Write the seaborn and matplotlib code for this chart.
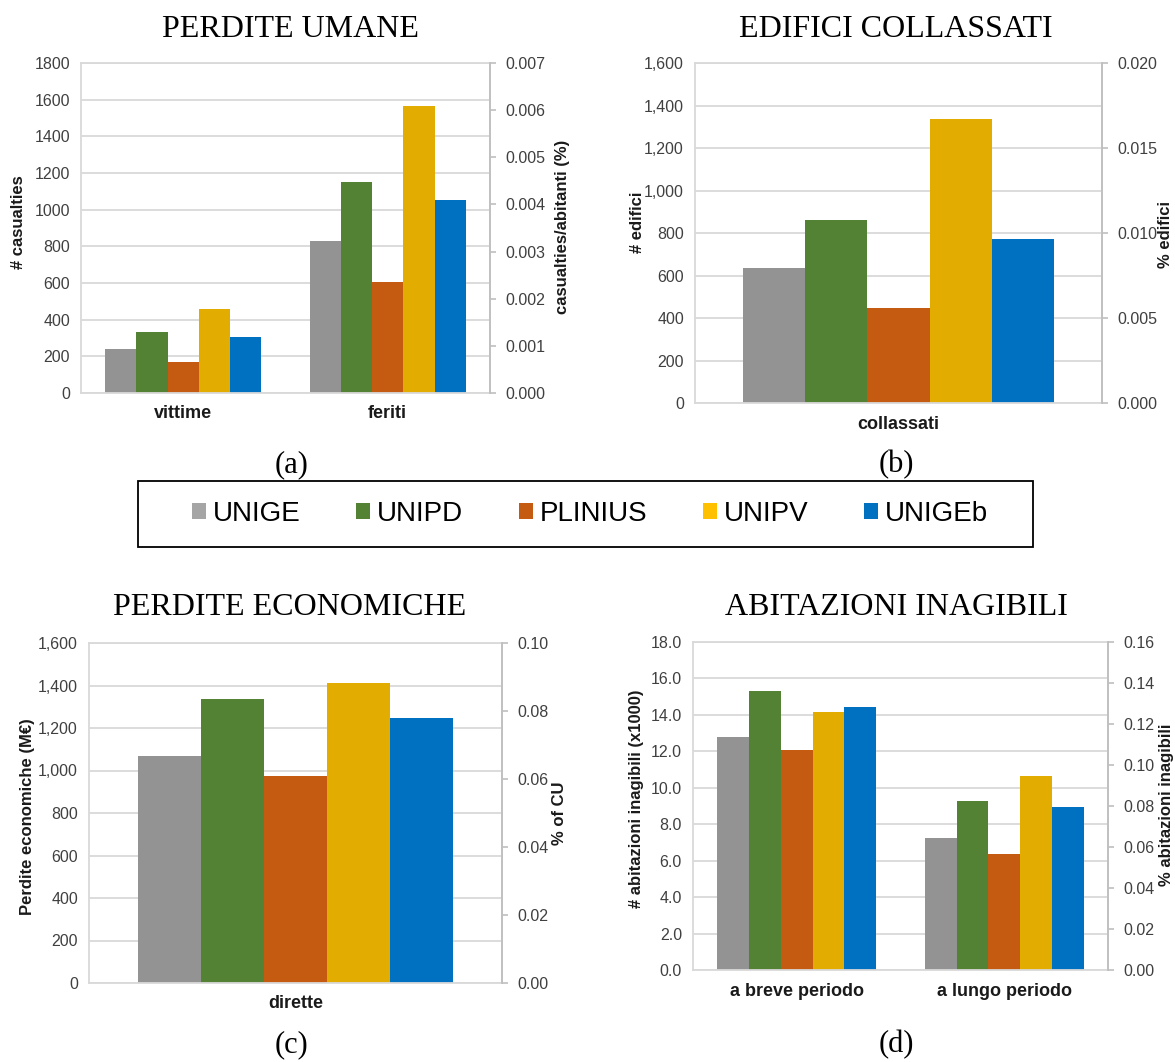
import pandas as pd
import seaborn as sns
import matplotlib.pyplot as plt
from matplotlib.patches import Patch, Rectangle
from matplotlib.ticker import FuncFormatter

# data
models = ["UNIGE", "UNIPD", "PLINIUS", "UNIPV", "UNIGEb"]

umane_cat = ["vittime", "feriti"]
umane_vittime = [240, 333, 168, 458, 304]
umane_feriti = [829, 1149, 607, 1567, 1051]

edifici_cat = ["collassati"]
edifici_collassati = [634, 861, 449, 1336, 772]

economiche_cat = ["dirette"]
economiche_dirette = [1068, 1335, 972, 1414, 1249]

abitazioni_cat = ["a breve periodo", "a lungo periodo"]
abitazioni_breve = [12.77, 15.33, 12.10, 14.18, 14.42]
abitazioni_lungo = [7.24, 9.26, 6.34, 10.65, 8.92]

bar_colors = ["#939393", "#548235", "#C55A11", "#E2AC00", "#0070C0"]
legend_colors = ["#A5A5A5", "#548235", "#C55A11", "#FFC000", "#0070C0"]

sns.set_style("white")
plt.rcParams["font.family"] = ["Liberation Sans", "DejaVu Sans"]

W, H = 1175, 1062
fig = plt.figure(figsize=(W / 100, H / 100), dpi=100)


def fx(x):
    return x / W


def fy(y):
    return 1 - y / H


def long_table(categories, series):
    rows = []
    for cat, values in zip(categories, series):
        for m, v in zip(models, values):
            rows.append({"categoria": cat, "modello": m, "valore": v})
    return pd.DataFrame(rows)


def panel(box, df, ymax, ystep, fmt, ymax2, ystep2, fmt2):
    l, t, r, b = box
    ax = fig.add_axes([fx(l), fy(b), (r - l) / W, (b - t) / H])
    sns.barplot(data=df, x="categoria", y="valore", hue="modello",
                hue_order=models, palette=bar_colors, saturation=1,
                width=0.765, legend=False, ax=ax, linewidth=0)
    ax.set_ylim(0, ymax)
    ax.set_yticks([i * ystep for i in range(int(round(ymax / ystep)) + 1)])
    ax.yaxis.set_major_formatter(FuncFormatter(lambda v, p: fmt.format(v)))
    ax.set_xlabel("")
    ax.set_ylabel("")
    ax.yaxis.grid(True, color="#D9D9D9", lw=1.3)
    ax.set_axisbelow(True)
    for s in ax.spines.values():
        s.set_color("#D9D9D9")
        s.set_linewidth(1.3)
    ax.tick_params(axis="y", length=0, pad=8, labelsize=11.5, labelcolor="#404040")
    ax.tick_params(axis="x", length=0, pad=9, labelsize=13, labelcolor="#1a1a1a")
    for lab in ax.get_xticklabels():
        lab.set_fontweight("bold")

    ax2 = ax.twinx()
    ax2.set_ylim(0, ymax2)
    ax2.set_yticks([i * ystep2 for i in range(int(round(ymax2 / ystep2)) + 1)])
    ax2.yaxis.set_major_formatter(FuncFormatter(lambda v, p: fmt2.format(v)))
    for side in ["left", "top", "bottom"]:
        ax2.spines[side].set_visible(False)
    ax2.spines["right"].set_color("#BFBFBF")
    ax2.spines["right"].set_linewidth(1.3)
    ax2.tick_params(axis="y", length=4, width=1.2, color="#BFBFBF", pad=7,
                    labelsize=11.5, labelcolor="#404040")
    return ax


def side_label(x, y, text):
    fig.text(fx(x), fy(y), text, rotation=90, ha="center", va="center",
             fontsize=12, fontweight="bold", color="#1a1a1a")


def title(x, y, text):
    fig.text(fx(x), fy(y), text, ha="center", va="baseline", fontsize=23,
             color="black", family=["Liberation Serif", "DejaVu Serif"])


def tag(x, y, text):
    fig.text(fx(x), fy(y), text, ha="center", va="center", fontsize=22,
             color="black", family=["Liberation Serif", "DejaVu Serif"])


# (a) perdite umane
panel((81, 63, 490, 393), long_table(umane_cat, [umane_vittime, umane_feriti]),
      1800, 200, "{:.0f}", 0.007, 0.001, "{:.3f}")
title(291, 37, "PERDITE UMANE")
side_label(19, 222, "# casualties")
side_label(562, 227, "casualties/abitanti (%)")
tag(292, 465, "(a)")

# (b) edifici collassati
panel((695, 63, 1102, 403), long_table(edifici_cat, [edifici_collassati]),
      1600, 200, "{:,.0f}", 0.020, 0.005, "{:.3f}")
title(896, 37, "EDIFICI COLLASSATI")
side_label(637, 222, "# edifici")
side_label(1165, 234, "% edifici")
tag(896, 465, "(b)")

# (c) perdite economiche
panel((89, 643, 502, 983), long_table(economiche_cat, [economiche_dirette]),
      1600, 200, "{:,.0f}", 0.10, 0.02, "{:.2f}")
title(290, 615, "PERDITE ECONOMICHE")
side_label(28, 817, "Perdite economiche (M€)")
side_label(560, 813, "% of CU")
tag(292, 1045, "(c)")

# (d) abitazioni inagibili
panel((693, 642, 1108, 970), long_table(abitazioni_cat, [abitazioni_breve, abitazioni_lungo]),
      18, 2, "{:.1f}", 0.16, 0.02, "{:.2f}")
title(896, 615, "ABITAZIONI INAGIBILI")
side_label(637, 799, "# abitazioni inagibili (x1000)")
side_label(1167, 805, "% abitazioni inagibili")
tag(896, 1045, "(d)")

# shared legend in a black box
fig.patches.append(Rectangle((fx(138), fy(547)), (1033 - 138) / W, (547 - 481) / H,
                             transform=fig.transFigure, fill=False,
                             edgecolor="black", linewidth=1.3))
handles = [Patch(facecolor=c, edgecolor="none") for c in legend_colors]
leg = fig.legend(handles, models, ncol=5, loc="center", bbox_to_anchor=(fx(590), fy(514)),
                 frameon=False, fontsize=20, handlelength=0.5, handleheight=0.5,
                 handletextpad=0.25, columnspacing=2.0)
for txt in leg.get_texts():
    txt.set_color("black")

fig.savefig("out.png", dpi=100)
